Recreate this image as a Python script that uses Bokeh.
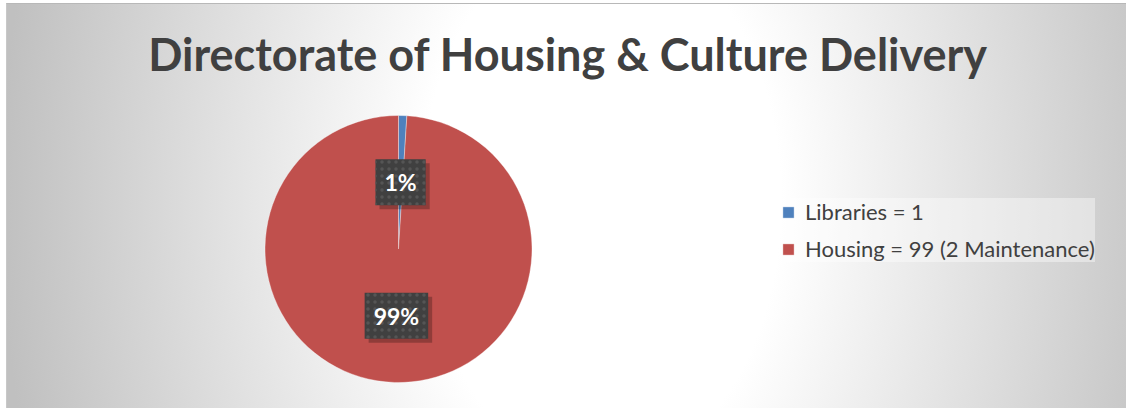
import math
from bokeh.plotting import figure
from bokeh.models import Range1d, ColumnDataSource, Legend, LegendItem
from bokeh.core.properties import value
from bokeh.embed import file_html
from bokeh.resources import INLINE

# ---- data ----
title_text = "Directorate of Housing  & Culture Delivery"
categories = ["Libraries = 1", "Housing = 99 (2 Maintenance)"]
values = [1, 99]
colors = ["#4f81bd", "#c0504d"]

W, H = 1120, 405
CX, CY, R = 391, 160.5, 133.5

total = float(sum(values))
starts, ends, mids, pcts = [], [], [], []
cum = 0.0
for v in values:
    a0 = math.pi / 2 - 2 * math.pi * cum / total
    cum += v
    a1 = math.pi / 2 - 2 * math.pi * cum / total
    starts.append(a0)
    ends.append(a1)
    mids.append((a0 + a1) / 2)
    pcts.append(f"{round(v / total * 100)}%")

lab_r = 0.5 * R
src = ColumnDataSource(dict(
    cat=categories, val=values, color=colors, start=starts, end=ends,
    lx=[CX + lab_r * math.cos(m) for m in mids],
    ly=[CY + lab_r * math.sin(m) for m in mids],
    pct=pcts,
))

p = figure(width=W, height=H, output_backend="svg", toolbar_location=None,
           x_range=Range1d(0, W), y_range=Range1d(0, H), min_border=0)
p.axis.visible = False
p.grid.visible = False
p.background_fill_color = None
p.border_fill_color = None
p.outline_line_color = None
p.styles = {
    "margin-left": "6px",
    "margin-top": "3px",
    "border-top": "1px solid #b8b8b8",
    "border-left": "1px solid #c8c8c8",
    "background": "radial-gradient(ellipse 600px 900px at 594px 197px, #ffffff 0%, #ffffff 30%, #c0c0c0 100%)",
}

wedges = p.wedge(x=CX, y=CY, radius=R, start_angle="start", end_angle="end",
                 direction="clock", fill_color="color", line_color="white",
                 line_width=0.5, line_alpha=0.7, source=src)

# label shadows
p.text(x="lx", y="ly", text="pct", source=src, text_alpha=0,
       text_font=value("Lato"), text_font_style="bold", text_font_size="23px",
       text_align="center", text_baseline="middle", x_offset=4, y_offset=4,
       background_fill_color="black", background_fill_alpha=0.25, padding=9)
# labels
p.text(x="lx", y="ly", text="pct", source=src, text_color="white",
       text_font=value("Lato"), text_font_style="bold", text_font_size="23px",
       text_align="center", text_baseline="middle",
       background_fill_color="#404040", background_hatch_pattern="dot",
       background_hatch_color="#555555", background_hatch_scale=7,
       padding=9)

# title
p.text(x=[566], y=[356], text=[title_text], text_color="#404040",
       text_font=value("Lato"), text_font_style="bold", text_font_size="45px",
       text_align="center", text_baseline="alphabetic")

legend = Legend(items=[LegendItem(label=c, renderers=[wedges], index=i)
                       for i, c in enumerate(categories)],
                location=(774, 147), orientation="vertical",
                glyph_width=14, glyph_height=14, label_height=24,
                spacing=10, padding=6, margin=0, label_standoff=10,
                label_text_font="Lato", label_text_font_size="22px",
                label_text_color="#404040",
                background_fill_color="white", background_fill_alpha=0.4,
                border_line_color=None)
p.add_layout(legend, "center")

open("out.html", "w").write(file_html(p, INLINE))
